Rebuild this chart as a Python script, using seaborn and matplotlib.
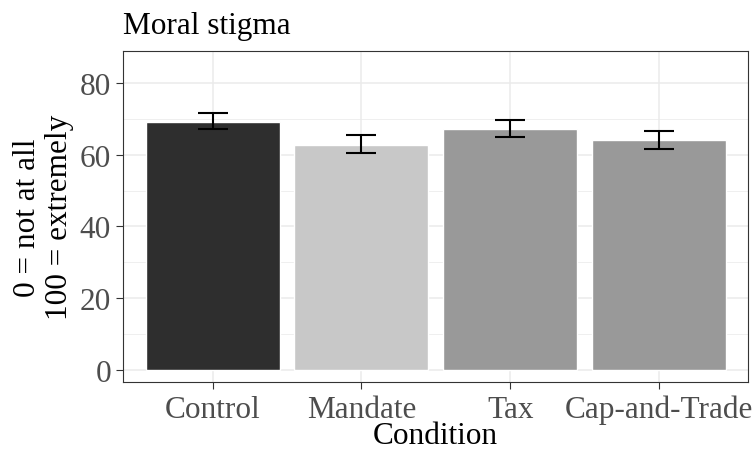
import matplotlib
matplotlib.use("Agg")
import matplotlib.pyplot as plt
import seaborn as sns
import pandas as pd
from matplotlib.ticker import MultipleLocator

conditions = ["Control", "Mandate", "Tax", "Cap-and-Trade"]
means = [69.2, 62.8, 67.1, 64.0]
ci_low = [67.1, 60.4, 64.9, 61.6]
ci_high = [71.6, 65.4, 69.7, 66.5]
bar_colors = ["#2e2e2e", "#c8c8c8", "#999999", "#999999"]
y_ticks = [0, 20, 40, 60, 80]

sns.set_theme(style="whitegrid")
plt.rcParams["font.family"] = ["Liberation Serif", "DejaVu Serif"]

df = pd.DataFrame({"Condition": conditions, "value": means})

fig = plt.figure(figsize=(7.55, 4.52), dpi=100)
ax = fig.add_axes([0.1633, 0.152, 0.8278, 0.7336])
ax.set_facecolor("white")

sns.barplot(data=df, x="Condition", y="value", hue="Condition", order=conditions,
            palette=dict(zip(conditions, bar_colors)), width=0.9, saturation=1,
            legend=False, errorbar=None, ax=ax, zorder=2)

xs = range(len(conditions))
yerr = [[m - lo for m, lo in zip(means, ci_low)], [hi - m for m, hi in zip(means, ci_high)]]
ax.errorbar(xs, means, yerr=yerr, fmt="none", ecolor="black", elinewidth=1.5,
            capsize=10.5, capthick=1.5, zorder=3)

ax.set_xlim(-0.6, 3.6)
ax.set_ylim(-3.5, 89)
ax.set_yticks(y_ticks)
ax.yaxis.set_minor_locator(MultipleLocator(10))

ax.grid(True, which="major", color="#ebebeb", linewidth=1.1, zorder=0)
ax.grid(True, which="minor", axis="y", color="#ebebeb", linewidth=0.55, zorder=0)
ax.set_axisbelow(True)

for s in ax.spines.values():
    s.set_visible(True)
    s.set_color("#333333")
    s.set_linewidth(0.8)

fs = 22.5
ax.tick_params(axis="both", which="major", length=5, width=0.8, color="#333333",
               labelsize=fs, labelcolor="#4d4d4d", pad=3.9, bottom=True, left=True)
ax.tick_params(axis="both", which="minor", length=0)

ax.set_xlabel("Condition", fontsize=fs, color="black", labelpad=-2.5)
ax.set_ylabel("0 = not at all\n100 = extremely", fontsize=fs, color="black",
              labelpad=4, linespacing=1.12)
ax.set_title("Moral stigma", loc="left", fontsize=fs, color="black", pad=13)

fig.savefig("out.png", dpi=100)
